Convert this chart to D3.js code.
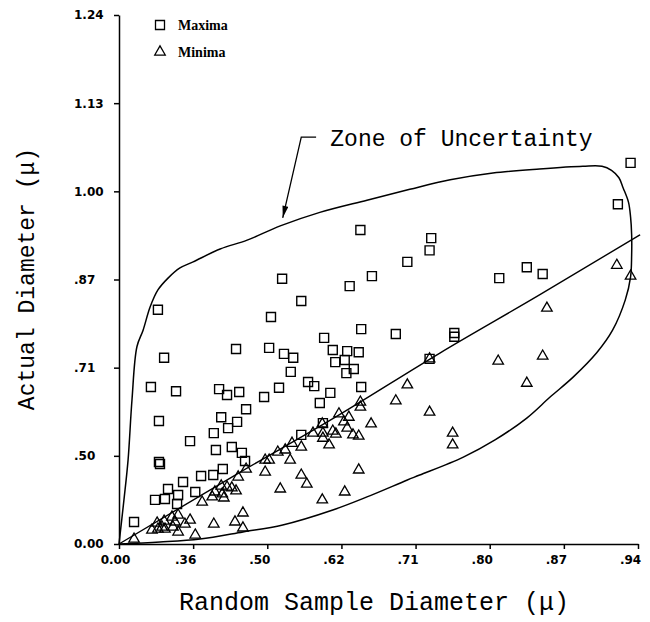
<!DOCTYPE html>
<html><head><meta charset="utf-8">
<script src="https://cdn.jsdelivr.net/npm/d3@7"></script>
<style>body{margin:0;background:#fff} svg{display:block}</style>
</head><body>
<svg id="c" width="650" height="622"></svg>
<script>
// ---------- data ----------
const xTicks = [0.00, 0.36, 0.50, 0.62, 0.71, 0.80, 0.87, 0.94];
const yTicks = [0.00, 0.50, 0.71, 0.87, 1.00, 1.13, 1.24];
const seriesNames = ["Maxima", "Minima"];
const xTitle = "Random Sample Diameter (\u03bc)";
const yTitle = "Actual Diameter (\u03bc)";
const zoneLabel = "Zone of Uncertainty";

// [random sample diameter, actual diameter]
const maxima = [
 [.933,1.042],[.921,.981],[.729,.931],[.727,.913],[.809,.872],[.835,.888],[.850,.878],[.643,.943],
 [.700,.896],[.657,.875],[.524,.871],[.630,.858],[.555,.831],[.506,.802],[.189,.815],[.219,.728],
 [.441,.744],[.503,.746],[.527,.735],[.542,.728],[.538,.700],[.519,.662],[.155,.664],[.277,.654],
 [.409,.659],[.424,.645],[.447,.652],[.494,.640],[.644,.780],[.686,.771],[.757,.773],[.757,.766],
 [.592,.764],[.606,.742],[.627,.740],[.641,.738],[.610,.720],[.624,.724],[.635,.707],[.626,.697],
 [.566,.676],[.576,.666],[.602,.650],[.644,.664],[.585,.626],[.727,.726],[.590,.578],[.555,.550],
 [.460,.611],[.413,.592],[.443,.581],[.426,.566],[.399,.554],[.345,.535],[.403,.514],[.433,.521],
 [.452,.507],[.458,.471],[.416,.425],[.398,.391],[.375,.386],[.311,.352],[.364,.295],[.194,.583],
 [.194,.465],[.199,.454],[.238,.312],[.287,.278],[.175,.250],[.223,.255],[.282,.227],[.073,.125]
];
const minima = [
 [.920,.891],[.933,.875],[.854,.818],[.808,.722],[.850,.731],[.835,.673],[.727,.604],[.755,.554],
 [.755,.526],[.700,.669],[.686,.631],[.643,.628],[.643,.616],[.616,.600],[.629,.592],[.623,.581],
 [.627,.566],[.656,.576],[.589,.576],[.574,.554],[.590,.554],[.606,.559],[.611,.552],[.590,.542],
 [.634,.550],[.641,.547],[.600,.526],[.540,.530],[.555,.521],[.529,.514],[.517,.509],[.503,.476],
 [.496,.476],[.537,.476],[.496,.408],[.555,.391],[.564,.340],[.641,.420],[.521,.312],[.445,.380],
 [.460,.425],[.424,.323],[.413,.329],[.401,.295],[.415,.284],[.418,.261],[.433,.318],[.441,.301],
 [.377,.238],[.589,.250],[.624,.295],[.454,.176],[.439,.125],[.454,.091],[.399,.113],[.396,.267],
 [.073,.028],[.160,.079],[.185,.119],[.209,.096],[.219,.130],[.257,.153],[.223,.085],[.272,.125],
 [.287,.068],[.320,.113],[.345,.136],[.364,.051],[.287,.164],[.262,.096],[.189,.085],[.727,.726]
];
// boundary of the zone of uncertainty (starts and ends at origin)
const zoneBoundary = [
 [0,0],[.024,.250],[.044,.476],[.063,.633],[.087,.748],[.117,.778],[.151,.820],[.189,.851],
 [.238,.872],[.296,.887],[.360,.896],[.411,.915],[.462,.928],[.521,.949],[.585,.969],[.651,.987],
 [.703,1.003],[.752,1.017],[.803,1.027],[.847,1.033],[.888,1.037],[.906,1.037],[.915,1.031],
 [.922,1.020],[.926,1.005],[.931,.984],[.933,.962],[.934,.936],[.934,.906],[.933,.874],[.928,.833],
 [.916,.778],[.901,.737],[.879,.688],[.857,.640],[.835,.590],[.805,.538],[.768,.493],[.715,.391],
 [.700,.363],[.651,.267],[.606,.193],[.525,.108],[.454,.068],[.373,.028],[.199,.011],[0,0]
];
const trendLine = [[0,0],[.449,.408],[.602,.585],[.740,.737],[.847,.842],[.942,.936]];
const zoneArrow = [[.579,1.080],[.555,1.080],[.525,.961]];
const zoneLabelAt = [.602,1.067];

// ---------- layout ----------
const W = 650, H = 622;
const L = 119, R = 638, T = 15, B = 544;
const svg = d3.select("#c");
svg.append("rect").attr("width", W).attr("height", H).attr("fill", "#fff");

const x = d3.scaleLinear().domain(xTicks)
  .range(xTicks.map((d, i) => L + i * (R - L) / (xTicks.length - 1)));
const y = d3.scaleLinear().domain(yTicks)
  .range(yTicks.map((d, i) => B - i * (B - T) / (yTicks.length - 1)));

const fmt = d => {
  const s = d3.format(".2f")(d);
  return d === 0 ? s : (d < 1 ? s.replace(/^0/, "") : s);
};

// axes
const yAxis = svg.append("g").attr("transform", `translate(${L},0)`)
  .call(d3.axisLeft(y).tickValues(yTicks).tickFormat(fmt).tickSize(5).tickSizeOuter(0));
yAxis.selectAll("text").attr("x", 74 - L).attr("text-anchor", "start");

const xAxis = svg.append("g").attr("transform", `translate(0,${B})`)
  .call(d3.axisBottom(x).tickValues(xTicks).tickFormat(fmt).tickSize(5).tickPadding(6.5).tickSizeOuter(0));
xAxis.selectAll("text").attr("dx", d => d === 0 ? -4 : -8);

[yAxis, xAxis].forEach(g => {
  g.attr("font-family", "'DejaVu Sans', sans-serif").attr("font-size", 12).attr("font-weight", "bold");
  g.selectAll("text").attr("fill", "#000");
  g.select(".domain").attr("stroke", "#000").attr("stroke-width", 1.5);
  g.selectAll(".tick line").attr("stroke", "#000").attr("stroke-width", 1.5);
});

// zone boundary
svg.append("path").datum(zoneBoundary)
  .attr("d", d3.line().x(d => x(d[0])).y(d => y(d[1])).curve(d3.curveCatmullRom.alpha(0.5)))
  .attr("fill", "none").attr("stroke", "#000").attr("stroke-width", 1.5);

svg.append("path").datum(trendLine)
  .attr("d", d3.line().x(d => x(d[0])).y(d => y(d[1])).curve(d3.curveMonotoneX))
  .attr("fill", "none").attr("stroke", "#000").attr("stroke-width", 1.4);

// markers
const sq = d3.symbol(d3.symbolSquare, 81);
const tri = d3.symbol(d3.symbolTriangle, 48);
svg.append("g").selectAll("path").data(maxima).join("path")
  .attr("transform", d => `translate(${x(d[0])},${y(d[1])})`)
  .attr("d", sq).attr("fill", "none").attr("stroke", "#000").attr("stroke-width", 1.4);
svg.append("g").selectAll("path").data(minima).join("path")
  .attr("transform", d => `translate(${x(d[0])},${y(d[1])})`)
  .attr("d", tri).attr("fill", "none").attr("stroke", "#000").attr("stroke-width", 1.3);

// annotation arrow
svg.append("defs").append("marker").attr("id", "ah")
  .attr("viewBox", "0 0 12 6").attr("refX", 12).attr("refY", 3)
  .attr("markerWidth", 13).attr("markerHeight", 6).attr("markerUnits", "userSpaceOnUse")
  .attr("orient", "auto")
  .append("path").attr("d", "M0,0 L12,3 L0,6 Z").attr("fill", "#000");
svg.append("path").datum(zoneArrow)
  .attr("d", d3.line().x(d => x(d[0])).y(d => y(d[1])))
  .attr("fill", "none").attr("stroke", "#000").attr("stroke-width", 1.3)
  .attr("marker-end", "url(#ah)");
svg.append("text").attr("x", x(zoneLabelAt[0])).attr("y", y(zoneLabelAt[1]))
  .attr("font-family", "'Liberation Mono', monospace").attr("font-size", 23)
  .attr("fill", "#000").text(zoneLabel);

// legend
const leg = svg.append("g").attr("font-family", "'Liberation Serif', serif")
  .attr("font-size", 14).attr("font-weight", "bold");
[sq, tri].forEach((sym, i) => {
  leg.append("path").attr("transform", `translate(160,${25 + i * 27})`)
    .attr("d", sym).attr("fill", "none").attr("stroke", "#000").attr("stroke-width", 1.3);
  leg.append("text").attr("x", 178).attr("y", 30 + i * 27).attr("fill", "#000").text(seriesNames[i]);
});

// titles
svg.append("text").attr("x", 374).attr("y", 610).attr("text-anchor", "middle")
  .attr("font-family", "'Liberation Mono', monospace").attr("font-size", 25)
  .attr("fill", "#000").text(xTitle);
svg.append("text").attr("transform", "translate(34,279) rotate(-90)").attr("text-anchor", "middle")
  .attr("font-family", "'Liberation Mono', monospace").attr("font-size", 23)
  .attr("fill", "#000").text(yTitle);
</script>
</body></html>
